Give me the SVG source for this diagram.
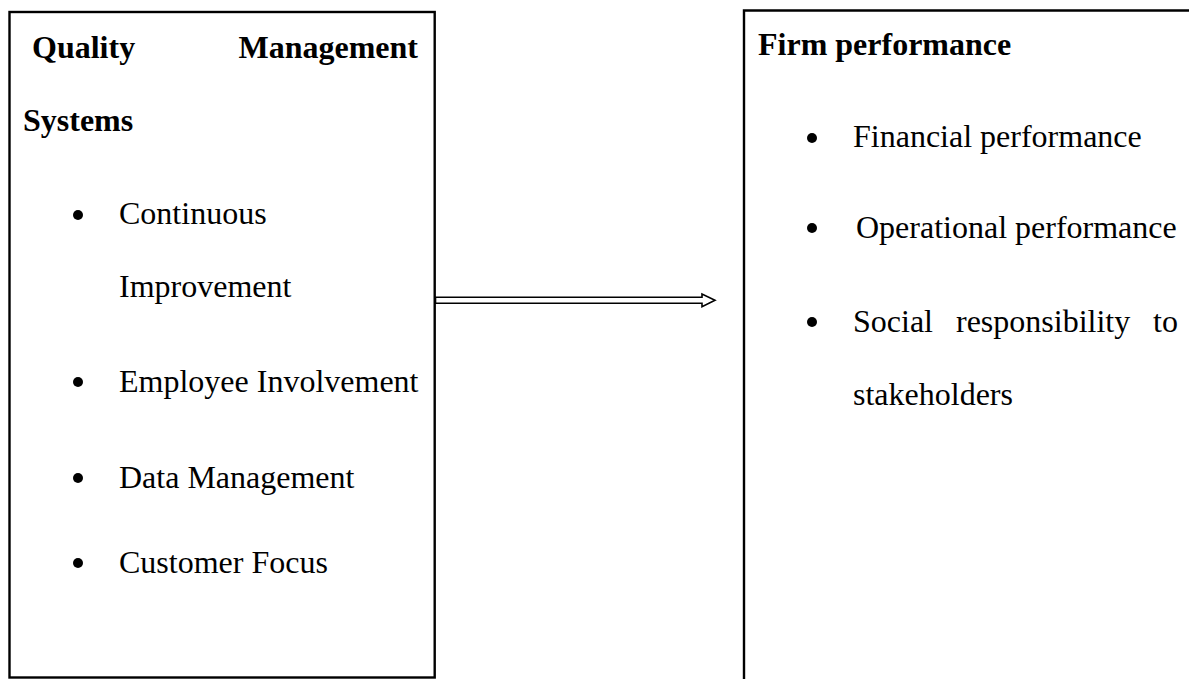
<svg xmlns="http://www.w3.org/2000/svg" width="1189" height="679" viewBox="0 0 1189 679">
  <style>
    .frame { fill: none; stroke: #000; stroke-width: 2.4; }
    .head { font-family: "Liberation Serif", "Times New Roman", serif; font-size: 32px; font-weight: bold; fill: #000; }
    .item { font-family: "Liberation Serif", "Times New Roman", serif; font-size: 32px; fill: #000; }
    .dot { fill: #000; }
    .arrow { fill: #fff; stroke: #000; stroke-width: 1.6; stroke-linejoin: miter; }
  </style>
  <rect width="1189" height="679" fill="#fff"/>

  <!-- Independent variable box -->
  <g id="qms">
    <rect class="frame" x="9.5" y="12" width="425.2" height="665.5"/>
    <text class="head" x="32" y="58">Quality</text>
    <text class="head" x="418" y="58" text-anchor="end">Management</text>
    <text class="head" x="23" y="131">Systems</text>
    <circle class="dot" cx="78" cy="215" r="5"/>
    <text class="item" x="119" y="224">Continuous</text>
    <text class="item" x="119" y="297">Improvement</text>
    <circle class="dot" cx="78" cy="382" r="5"/>
    <text class="item" x="119" y="392">Employee Involvement</text>
    <circle class="dot" cx="78" cy="478" r="5"/>
    <text class="item" x="119" y="488">Data Management</text>
    <circle class="dot" cx="78" cy="563" r="5"/>
    <text class="item" x="119" y="573">Customer Focus</text>
  </g>

  <!-- Dependent variable box (open on the right and bottom) -->
  <g id="performance">
    <path class="frame" d="M1190,10.5 H744 V679"/>
    <text class="head" x="758" y="55">Firm performance</text>
    <circle class="dot" cx="812" cy="138" r="5"/>
    <text class="item" x="853" y="147">Financial performance</text>
    <circle class="dot" cx="812" cy="228" r="5"/>
    <text class="item" x="856" y="238">Operational performance</text>
    <circle class="dot" cx="812" cy="322" r="5"/>
    <text class="item" x="853" y="332">Social</text>
    <text class="item" x="956" y="332">responsibility</text>
    <text class="item" x="1178" y="332" text-anchor="end">to</text>
    <text class="item" x="853" y="405">stakeholders</text>
  </g>

  <!-- Connectors -->
  <g id="connectors">
    <path class="arrow" d="M435.5,297.3 H702 V294 L715,300.3 L702,306.7 V303.3 H435.5 Z"/>
  </g>
</svg>
